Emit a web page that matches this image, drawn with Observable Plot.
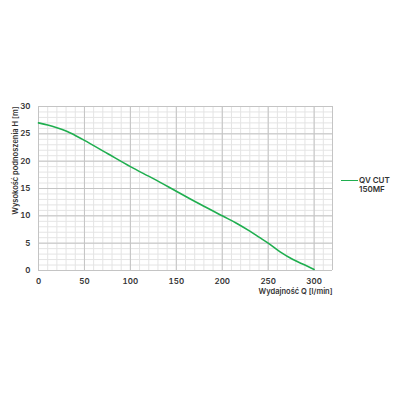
<!DOCTYPE html>
<html><head><meta charset="utf-8">
<script src="https://cdn.jsdelivr.net/npm/d3@7"></script>
<script src="https://cdn.jsdelivr.net/npm/@observablehq/plot@0.6"></script>
<style>
body{margin:0;background:#fff;}
#wrap{position:relative;width:400px;height:400px;font-family:Inter,"Open Sans",sans-serif;}
#legend{position:absolute;left:341px;top:176px;font-size:8px;font-weight:600;color:#333;line-height:9px;display:flex;align-items:flex-start;}
#legend .sw{width:17px;height:0;border-top:1.6px solid #1fae4f;margin-top:4px;margin-right:1px;}
</style></head>
<body><div id="wrap"><div id="legend"><div class="sw"></div><div>QV CUT<br>150MF</div></div></div>
<script>
const seriesName = "QV CUT 150MF";
const flow = [0,10,20,30,40,50,75,100,125,150,175,200,215,230,240,250,263,277,290,300];
const head = [27,26.6,26.1,25.5,24.7,23.8,21.4,19.0,16.8,14.5,12.2,10.0,8.7,7.2,6.1,5.0,3.4,2.0,1.0,0.2];
const xTicks = [0,50,100,150,200,250,300];
const yTicks = [0,5,10,15,20,25,30];
const xLabel = "Wydajność Q [l/min]";
const yLabel = "Wysokość podnoszenia H [m]";

const data = flow.map((q,i)=>({q, h: head[i]}));
const minorX = d3.range(0, 321, 10);
const minorY = d3.range(0, 31, 1);

const chart = Plot.plot({
  width: 400, height: 400,
  marginLeft: 38, marginRight: 68, marginTop: 106, marginBottom: 130,
  style: {fontFamily: "Inter, 'Open Sans', sans-serif", fontSize: "8px", fontWeight: 600, color: "#333", background: "#fff"},
  x: {domain: [0, 320], ticks: xTicks, label: null, tickSize: 0, tickPadding: 8},
  y: {domain: [0, 30], ticks: yTicks, label: null, tickSize: 0, tickPadding: 8},
  marks: [
    Plot.ruleX(minorX, {stroke: "#e4e4e4", strokeWidth: 1, strokeOpacity: 1}),
    Plot.ruleY(minorY, {stroke: "#e4e4e4", strokeWidth: 1, strokeOpacity: 1}),
    Plot.ruleX(d3.range(0, 321, 50), {stroke: "#c4c4c4", strokeWidth: 1}),
    Plot.ruleY(yTicks, {stroke: "#c4c4c4", strokeWidth: 1}),
    Plot.ruleX([320], {stroke: "#c4c4c4", strokeWidth: 1}),
    Plot.line(data, {x: "q", y: "h", stroke: "#1fae4f", strokeWidth: 1.6, curve: "catmull-rom"}),
    Plot.text([yLabel], {frameAnchor: "top-left", rotate: -90, dx: -26, textAnchor: "end", fontSize: 7.5, fontWeight: 600, fill: "#333"}),
    Plot.text([xLabel], {frameAnchor: "bottom-right", dy: 23, textAnchor: "end", fontSize: 7.5, fontWeight: 600, fill: "#333"})
  ]
});
document.getElementById("wrap").prepend(chart);
</script>
</body></html>
